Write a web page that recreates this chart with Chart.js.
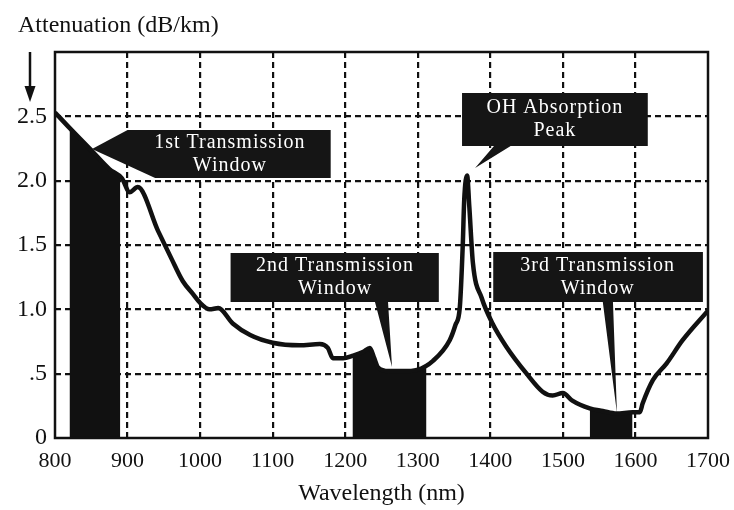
<!DOCTYPE html>
<html>
<head>
<meta charset="utf-8">
<script src="https://cdn.jsdelivr.net/npm/chart.js@4/dist/chart.umd.min.js"></script>
<style>
  html, body { margin: 0; padding: 0; background: #ffffff; }
  #wrap { width: 734px; height: 510px; }
</style>
</head>
<body>
<div id="wrap"><canvas id="chart" width="734" height="510"></canvas></div>
<script>
// Fibre attenuation versus wavelength
const wavelengths = [800, 820, 851, 875, 892, 903, 914, 942, 960, 976, 990, 1000, 1013, 1025, 1045,
  1069, 1100, 1137, 1165, 1176, 1183, 1197, 1211, 1225, 1234, 1240, 1245, 1260, 1280, 1299,
  1321, 1344, 1352, 1358, 1362, 1364, 1368, 1371, 1376, 1388, 1403, 1422, 1450, 1472, 1486,
  1500, 1513, 1537, 1555, 1574, 1596, 1606, 1610, 1624, 1643, 1665, 1700];
const attenuation = [2.53, 2.41, 2.23, 2.09, 2.02, 1.91, 1.95, 1.61, 1.40, 1.22, 1.12, 1.05, 1.00, 1.01, 0.89,
  0.80, 0.74, 0.72, 0.73, 0.70, 0.62, 0.62, 0.64, 0.67, 0.70, 0.62, 0.55, 0.52, 0.52, 0.53,
  0.60, 0.76, 0.88, 1.02, 1.50, 1.85, 2.04, 1.80, 1.36, 1.09, 0.89, 0.71, 0.50, 0.36, 0.33,
  0.35, 0.29, 0.23, 0.21, 0.19, 0.20, 0.20, 0.27, 0.45, 0.58, 0.76, 0.99];

// Transmission windows (shaded from zero up to the curve)
const windowStart = [820, 1210, 1537];
const windowEnd = [890, 1312, 1596];
const windowStartValue = [2.41, 0.64, 0.23];
const windowEndValue = [2.03, 0.56, 0.20];

// Axis tick labels
const xTickValues = [800, 900, 1000, 1100, 1200, 1300, 1400, 1500, 1600, 1700];
const yTickValues = [0, 0.5, 1.0, 1.5, 2.0, 2.5];
const yTickLabels = ['0', '.5', '1.0', '1.5', '2.0', '2.5'];

// Callout texts
const calloutLines = [
  ['1st Transmission', 'Window'],
  ['OH Absorption', 'Peak'],
  ['2nd Transmission', 'Window'],
  ['3rd Transmission', 'Window']
];

// Callout shapes in data units (wavelength, dB/km): outline polygon and text centre
const calloutShapes = [
  [[851, 2.246], [900, 2.394], [1180, 2.394], [1180, 2.021], [938, 2.021]],
  [[1361, 2.681], [1617, 2.681], [1617, 2.269], [1428, 2.269], [1379, 2.098], [1405, 2.269], [1361, 2.269]],
  [[1042, 1.438], [1329, 1.438], [1329, 1.057], [1259, 1.057], [1264.5, 0.552], [1241, 1.057], [1042, 1.057]],
  [[1404, 1.446], [1693, 1.446], [1693, 1.057], [1569, 1.057], [1574.5, 0.194], [1555, 1.057], [1404, 1.057]]
];
const calloutCentres = [[1041, 2.207], [1489, 2.475], [1186, 1.247], [1548, 1.251]];

const SERIF = '"Liberation Serif", "Times New Roman", serif';

const curvePoints = wavelengths.map((x, i) => ({ x: x, y: attenuation[i] }));

function windowPoints(k) {
  const pts = [{ x: windowStart[k], y: windowStartValue[k] }];
  curvePoints.forEach(p => {
    if (p.x > windowStart[k] && p.x < windowEnd[k]) pts.push(p);
  });
  pts.push({ x: windowEnd[k], y: windowEndValue[k] });
  return pts;
}

const windowDatasets = windowStart.map((s, k) => ({
  data: windowPoints(k),
  borderColor: '#111',
  borderWidth: 1,
  backgroundColor: '#111',
  fill: 'origin',
  pointRadius: 0,
  cubicInterpolationMode: 'monotone',
  order: 2
}));

const decorPlugin = {
  id: 'decor',
  afterDatasetsDraw(chart) {
    const ctx = chart.ctx;
    const xs = chart.scales.x, ys = chart.scales.y;
    const a = chart.chartArea;
    ctx.save();
    // plot frame
    ctx.strokeStyle = '#111';
    ctx.lineWidth = 2.5;
    ctx.setLineDash([]);
    ctx.strokeRect(a.left, a.top, a.right - a.left, a.bottom - a.top);
    // callouts
    calloutShapes.forEach((shape, i) => {
      ctx.beginPath();
      shape.forEach((p, j) => {
        const px = xs.getPixelForValue(p[0]);
        const py = ys.getPixelForValue(p[1]);
        if (j === 0) ctx.moveTo(px, py); else ctx.lineTo(px, py);
      });
      ctx.closePath();
      ctx.fillStyle = '#151515';
      ctx.fill();
      const cx = xs.getPixelForValue(calloutCentres[i][0]);
      const cy = ys.getPixelForValue(calloutCentres[i][1]);
      ctx.fillStyle = '#ffffff';
      ctx.font = '20px ' + SERIF;
      ctx.textAlign = 'center';
      ctx.textBaseline = 'middle';
      if ('letterSpacing' in ctx) ctx.letterSpacing = '1px';
      const lh = 23;
      const lines = calloutLines[i];
      lines.forEach((t, j) => {
        ctx.fillText(t, cx, cy + (j - (lines.length - 1) / 2) * lh);
      });
      if ('letterSpacing' in ctx) ctx.letterSpacing = '0px';
    });
    ctx.restore();
  },
  afterDraw(chart) {
    const ctx = chart.ctx;
    ctx.save();
    ctx.fillStyle = '#111';
    ctx.font = '24px ' + SERIF;
    ctx.textAlign = 'left';
    ctx.textBaseline = 'alphabetic';
    ctx.fillText('Attenuation (dB/km)', 18, 32);
    // downward arrow
    ctx.strokeStyle = '#111';
    ctx.lineWidth = 2.5;
    ctx.beginPath();
    ctx.moveTo(30, 52);
    ctx.lineTo(30, 90);
    ctx.stroke();
    ctx.beginPath();
    ctx.moveTo(24.5, 86);
    ctx.lineTo(35.5, 86);
    ctx.lineTo(30, 102);
    ctx.closePath();
    ctx.fill();
    ctx.restore();
  }
};

function innerGrid(ctx, lo, hi) {
  const v = ctx.tick ? ctx.tick.value : null;
  return (v === lo || v === hi) ? 'rgba(0,0,0,0)' : '#111';
}

new Chart(document.getElementById('chart'), {
  type: 'line',
  data: {
    datasets: [
      {
        data: curvePoints,
        borderColor: '#111',
        borderWidth: 4.5,
        pointRadius: 0,
        fill: false,
        cubicInterpolationMode: 'monotone',
        order: 0
      },
      ...windowDatasets
    ]
  },
  options: {
    responsive: false,
    animation: false,
    devicePixelRatio: 1,
    layout: { padding: { top: 52, right: 26, left: 0, bottom: 0 } },
    plugins: {
      legend: { display: false },
      tooltip: { enabled: false },
      title: { display: false }
    },
    scales: {
      x: {
        type: 'linear',
        min: 800,
        max: 1700,
        afterBuildTicks: s => { s.ticks = xTickValues.map(v => ({ value: v })); },
        afterFit: s => { s.height = 72; s.paddingLeft = 0; s.paddingRight = 0; },
        ticks: {
          color: '#111',
          font: { family: SERIF, size: 22 },
          padding: 10,
          maxRotation: 0,
          autoSkip: false,
          callback: v => String(v)
        },
        grid: {
          color: c => innerGrid(c, 800, 1700),
          lineWidth: 2.2,
          drawTicks: false
        },
        border: { display: false, dash: [6, 4] },
        title: {
          display: true,
          text: 'Wavelength (nm)',
          color: '#111',
          font: { family: SERIF, size: 24 },
          padding: { top: 4, bottom: 2 }
        }
      },
      y: {
        min: 0,
        max: 3,
        afterBuildTicks: s => { s.ticks = yTickValues.concat([3]).map(v => ({ value: v })); },
        afterFit: s => { s.width = 55; s.paddingTop = 0; s.paddingBottom = 0; },
        ticks: {
          color: '#111',
          font: { family: SERIF, size: 24 },
          padding: 8,
          callback: v => {
            const i = yTickValues.indexOf(v);
            return i >= 0 ? yTickLabels[i] : '';
          }
        },
        grid: {
          color: c => innerGrid(c, 0, 3),
          lineWidth: 2.2,
          drawTicks: false
        },
        border: { display: false, dash: [6, 4] }
      }
    }
  },
  plugins: [decorPlugin]
});
</script>
</body>
</html>
